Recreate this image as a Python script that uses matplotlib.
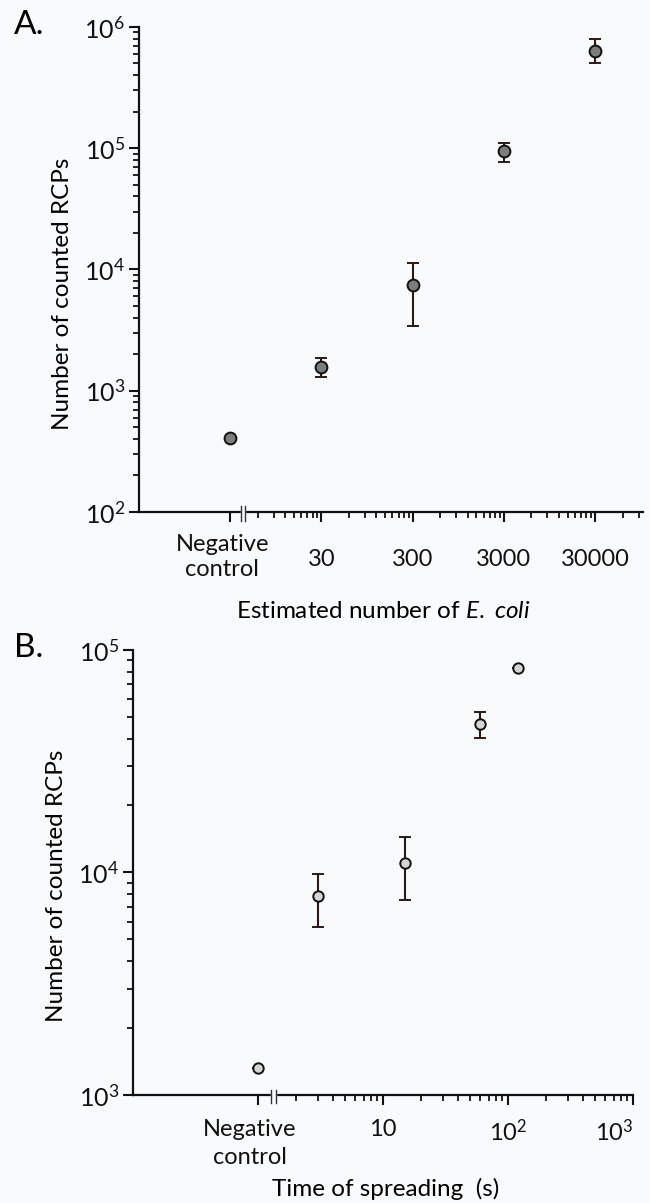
import numpy as np
import matplotlib.pyplot as plt
from matplotlib.ticker import FixedLocator, FixedFormatter, LogLocator, NullFormatter, FuncFormatter
import matplotlib.transforms as mtransforms

plt.rcParams['font.family'] = ['Lato', 'DejaVu Sans']
plt.rcParams['mathtext.fontset'] = 'custom'
plt.rcParams['mathtext.rm'] = 'Lato'
plt.rcParams['mathtext.it'] = 'Lato:italic'
plt.rcParams['mathtext.default'] = 'regular'

BG = '#f9fafc'

# Panel A: counts vs estimated number of E. coli (negative control drawn at 3)
a_x = [3, 30, 300, 3000, 30000]
a_y = [405, 1580, 7500, 94000, 630000]
a_lo = [405, 1310, 3400, 77000, 500000]
a_hi = [405, 1860, 11400, 110000, 790000]
a_ticks = [3, 30, 300, 3000, 30000]
a_ticklabels = ['Negative\ncontrol', '30', '300', '3000', '30000']

# Panel B: counts vs time of spreading (negative control drawn at 1)
b_x = [1, 3, 15, 60, 120]
b_y = [1320, 7800, 11000, 46400, 83000]
b_lo = [1320, 5700, 7550, 40400, 83000]
b_hi = [1320, 9800, 14400, 52500, 83000]
b_ticks = [1, 10, 100, 1000]
b_ticklabels = ['Negative\ncontrol', '10', '$10^{2}$', '$10^{3}$']

fig = plt.figure(figsize=(6.5, 12.03), dpi=100, facecolor=BG)


def style_axes(ax, xlim, ylim, ticks, ticklabels, minor_x, va, pad):
    ax.set_facecolor(BG)
    ax.set_xscale('log')
    ax.set_yscale('log')
    ax.set_xlim(*xlim)
    ax.set_ylim(*ylim)
    for s in ['top', 'right']:
        ax.spines[s].set_visible(False)
    for s in ['left', 'bottom']:
        ax.spines[s].set_linewidth(1.6)
        ax.spines[s].set_color('#111111')
    # first tick (negative control) gets its own text, shifted left like the original
    ax.xaxis.set_major_locator(FixedLocator(ticks))
    ax.xaxis.set_major_formatter(FixedFormatter([''] + ticklabels[1:]))
    ax.xaxis.set_minor_locator(FixedLocator(minor_x))
    ax.xaxis.set_minor_formatter(NullFormatter())
    ax.yaxis.set_major_locator(LogLocator(base=10))
    ax.yaxis.set_major_formatter(FuncFormatter(lambda v, p: '$10^{%d}$' % round(np.log10(v))))
    ax.yaxis.set_minor_locator(LogLocator(base=10, subs=np.arange(2, 10)))
    ax.yaxis.set_minor_formatter(NullFormatter())
    ax.tick_params(which='major', direction='out', length=7, width=1.5,
                   labelsize=18, colors='#111111', pad=3)
    ax.tick_params(which='minor', direction='out', length=4, width=1.3, colors='#111111')
    ax.tick_params(axis='x', which='major', pad=pad, labelsize=17)
    for lab in ax.get_xticklabels():
        lab.set_va(va)
    trans = mtransforms.blended_transform_factory(ax.transData, ax.transAxes)
    off = trans + mtransforms.ScaledTranslation(-8 / 100, 0, fig.dpi_scale_trans)
    return trans, off


def axis_break(ax, trans, brk):
    ax.fill_between([brk[0], brk[1]], -0.01, 0.01, transform=trans, color=BG,
                    clip_on=False, zorder=5)
    for bx in brk:
        ax.plot([bx, bx], [-0.018, 0.012], transform=trans, color='#333333',
                lw=1.0, clip_on=False, zorder=6)


# ---- Panel A ----
axA = fig.add_axes([0.2138, 0.5744, 0.7752, 0.4032])
minorA = [3 * k for k in range(2, 10)] + [30 * k for k in range(2, 10)] + \
         [300 * k for k in range(2, 10)] + [3000 * k for k in range(2, 10)] + [60000, 90000]
transA, offA = style_axes(axA, (0.3, 1e5), (1e2, 1e6), a_ticks, a_ticklabels,
                          minorA, 'center', 27)
axis_break(axA, transA, (3.95, 4.35))
axA.text(a_ticks[0], -0.093, a_ticklabels[0], transform=offA, ha='center', va='center',
         fontsize=17, linespacing=1.25, color='#111111')
axA.errorbar(a_x, a_y,
             yerr=[np.array(a_y) - np.array(a_lo), np.array(a_hi) - np.array(a_y)],
             fmt='o', ms=8.5, mfc='#7d7d7d', mec='#111111', mew=1.4,
             ecolor='#2a1a14', elinewidth=1.5, capsize=4, capthick=1.5,
             clip_on=False, zorder=4)
axA.set_ylabel('Number of counted RCPs', fontsize=17.5, labelpad=8, y=0.45)
axA.set_xlabel('Estimated number of $\\it{E.\\ coli}$', fontsize=17.5, va='center')
axA.xaxis.set_label_coords(0.485, -0.206)
fig.text(0.022, 0.979, 'A.', fontsize=24, ha='left', va='center')

# ---- Panel B ----
axB = fig.add_axes([0.2046, 0.0898, 0.7694, 0.3699])
minorB = [k for k in range(2, 10)] + [10 * k for k in range(2, 10)] + \
         [100 * k for k in range(2, 10)]
transB, offB = style_axes(axB, (0.1, 1000), (1e3, 1e5), b_ticks, b_ticklabels,
                          minorB, 'top', 10)
axB.get_xticklabels()[-1].set_ha('right')
axis_break(axB, transB, (1.27, 1.4))
axB.text(b_ticks[0], -0.054, b_ticklabels[0], transform=offB, ha='center', va='top',
         fontsize=17, linespacing=1.4, color='#111111')
axB.errorbar(b_x, b_y,
             yerr=[np.array(b_y) - np.array(b_lo), np.array(b_hi) - np.array(b_y)],
             fmt='o', ms=7.5, mfc='#d4d4d4', mec='#111111', mew=1.4,
             ecolor='#2a1a14', elinewidth=1.5, capsize=4, capthick=1.5,
             clip_on=False, zorder=4)
axB.set_ylabel('Number of counted RCPs', fontsize=17.5, labelpad=8, y=0.47)
axB.set_xlabel('Time of spreading  (s)', fontsize=17.5, va='center')
axB.xaxis.set_label_coords(0.505, -0.212)
fig.text(0.022, 0.461, 'B.', fontsize=24, ha='left', va='center')

fig.savefig('out.png', dpi=100, facecolor=BG)
